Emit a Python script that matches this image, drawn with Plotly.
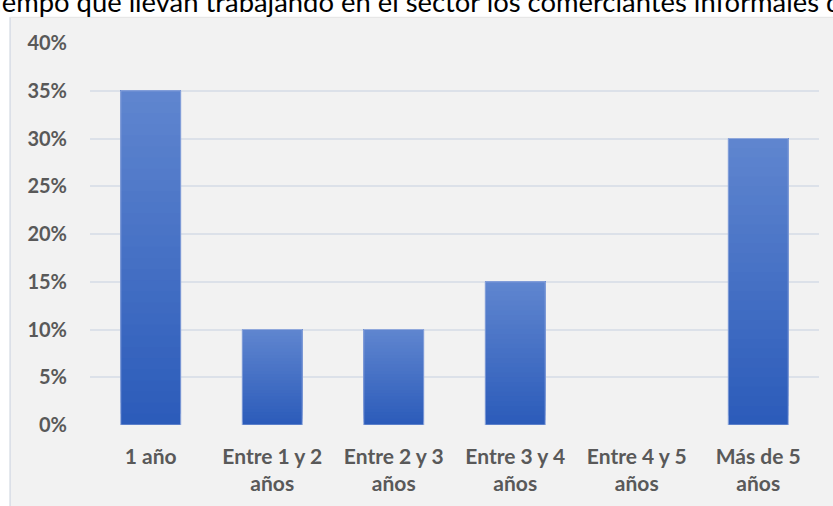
import plotly.graph_objects as go

categories = ["1 año", "Entre 1 y 2<br>años", "Entre 2 y 3<br>años",
              "Entre 3 y 4<br>años", "Entre 4 y 5<br>años", "Más de 5<br>años"]
values = [35, 10, 10, 15, 0, 30]
tick_vals = [0, 5, 10, 15, 20, 25, 30, 35, 40]
tick_text = ["0%", "5%", "10%", "15%", "20%", "25%", "30%", "35%", "40%"]
title_text = "Tiempo que llevan trabajando en el sector los comerciantes informales de"

W, H = 833, 506
L, R, T, B = 90.3, 14.3, 42.7, 81
pw, ph = W - L - R, H - T - B
PANEL_TOP = 17

def px_x(p):
    return (p - L) / pw

def px_y(p):
    return (H - B - p) / ph

top_rgb = (95, 133, 207)
bot_rgb = (44, 92, 186)
N = 30

fig = go.Figure()
for k in range(N):
    f = k / (N - 1)
    c = tuple(int(round(bot_rgb[i] + (top_rgb[i] - bot_rgb[i]) * f)) for i in range(3))
    fig.add_trace(go.Bar(
        x=categories,
        y=[v * (N - k) / N for v in values],
        base=[v * k / N for v in values],
        marker=dict(color="rgb(%d,%d,%d)" % c, line=dict(width=0)),
        width=0.494, hoverinfo="skip", showlegend=False,
    ))
fig.add_trace(go.Bar(
    x=categories, y=values, base=[0] * len(values),
    marker=dict(color="rgba(0,0,0,0)",
                line=dict(width=[1 if v else 0 for v in values], color="rgba(150,172,222,0.9)")),
    width=0.494, showlegend=False,
))

fig.update_layout(
    width=W, height=H,
    margin=dict(l=L, r=R, t=T, b=B, pad=0),
    paper_bgcolor="white",
    plot_bgcolor="rgba(0,0,0,0)",
    barmode="overlay",
    font=dict(family="Lato", color="#595959"),
    xaxis=dict(
        type="category",
        showgrid=False, zeroline=False, showline=False, ticks="",
        tickfont=dict(family="Lato", size=21, color="#595959", weight="bold"),
        ticklabelstandoff=17,
    ),
    yaxis=dict(
        range=[0, 40],
        tickvals=tick_vals, ticktext=tick_text,
        showgrid=True, gridcolor="#dce1e9", gridwidth=1.5,
        zeroline=False, showline=False, ticks="",
        tickfont=dict(family="Lato", size=20, color="#595959", weight="bold"),
        ticklabelstandoff=22,
    ),
    shapes=[
        dict(type="rect", xref="paper", yref="paper", layer="below",
             x0=px_x(10), x1=px_x(W + 5), y0=px_y(H + 5), y1=px_y(PANEL_TOP),
             fillcolor="#f2f2f2", line=dict(width=0)),
        dict(type="line", xref="paper", yref="paper", layer="below",
             x0=px_x(10.5), x1=px_x(10.5), y0=px_y(H + 5), y1=px_y(PANEL_TOP),
             line=dict(color="#d9dee7", width=1.5)),
        dict(type="line", xref="paper", yref="paper", layer="below",
             x0=px_x(10), x1=px_x(W + 5), y0=px_y(PANEL_TOP), y1=px_y(PANEL_TOP),
             line=dict(color="#e4e4e4", width=1)),
    ],
    annotations=[
        dict(text=title_text, xref="paper", yref="paper",
             x=px_x(-23), y=px_y(1.5), xanchor="left", yanchor="middle",
             showarrow=False, font=dict(family="Lato", size=27.4, color="#000000")),
    ],
)

fig.write_html("out.html", config={"displayModeBar": False},
               post_script="document.body.style.margin='0';document.body.style.overflow='hidden';")
